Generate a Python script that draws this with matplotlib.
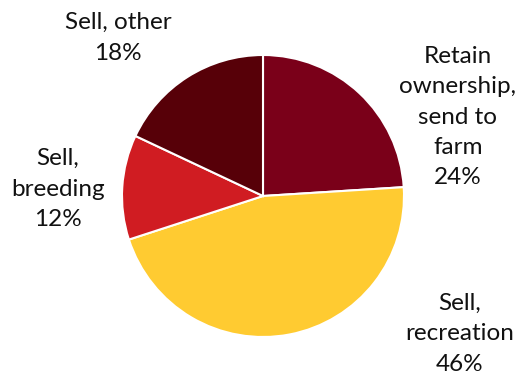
import matplotlib.pyplot as plt

labels = ["Retain\nownership,\nsend to\nfarm", "Sell,\nrecreation", "Sell,\nbreeding", "Sell, other"]
shares = [24, 46, 12, 18]
colors = ["#7a0019", "#ffcb31", "#d01c22", "#570008"]

W, H = 520, 379
fig = plt.figure(figsize=(W / 100, H / 100), dpi=100)
ax = fig.add_axes([0, 0, 1, 1])

cx, cy, r = 263, H - 196, 141
ax.pie(shares, colors=colors, startangle=90, counterclock=False,
       center=(cx, cy), radius=r, frame=True,
       wedgeprops=dict(edgecolor="white", linewidth=1.5))
ax.set_xlim(0, W)
ax.set_ylim(0, H)
ax.set_aspect("equal")
ax.axis("off")

# label anchor points (center of text block), in pixel coords from top
label_pos = [(458, 117), (460, 334), (58, 189), (118, 38)]
font = dict(family="Lato", fontsize=17.5, color="#111111")
for lab, val, (x, y) in zip(labels, shares, label_pos):
    ax.text(x, H - y, f"{lab}\n{val}%", ha="center", va="center",
            linespacing=1.55, **font)

fig.savefig("out.png", dpi=100)
